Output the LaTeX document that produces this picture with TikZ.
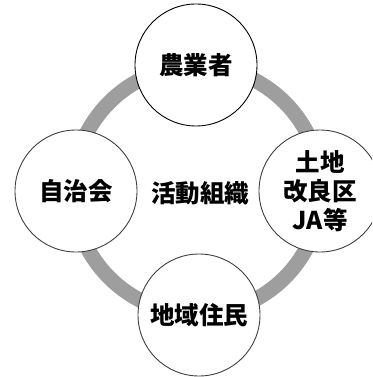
\documentclass[tikz,border=0pt]{standalone}
\usepackage{fontspec}
\newfontfamily\cjk{Noto Sans CJK JP}[BoldFont={Noto Sans CJK JP Black}]
\begin{document}
\begin{tikzpicture}[x=1pt,y=-1pt,
  member/.style={circle,draw=#1,line width=0.9pt,fill=white,minimum size=122pt,inner sep=0pt,align=center,
    font=\cjk\bfseries\fontsize{24.5}{29}\selectfont},
  member/.default=black!75,
  ringline/.style={draw=black!38,line width=15pt}]
\useasboundingbox (0,0) rectangle (372,377);
\begin{scope}
\clip (0,0) rectangle (372,377);
\coordinate (c) at (197,190);
\draw[ringline] (c) circle[radius=124];
\node[member=black] (farmer) at (196,65) {農業者};
\node[member] (council) at (76,191) {自治会};
\node[member] (land) at (320,191) {土地\\改良区\\JA等};
\node[member] (residents) at (199,315) {地域住民};
\node[font=\cjk\bfseries\fontsize{24.5}{29}\selectfont] (org) at (200,193) {活動組織};
\end{scope}
\end{tikzpicture}
\end{document}
